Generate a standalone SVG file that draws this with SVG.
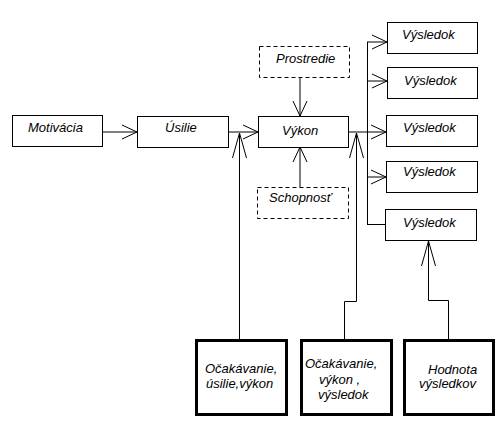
<svg xmlns="http://www.w3.org/2000/svg" width="504" height="435" viewBox="0 0 504 435">
<style>
.box{fill:#fff;stroke:#000;stroke-width:1}
.dash{fill:#fff;stroke:#000;stroke-width:1;stroke-dasharray:4,3}
.thick{fill:#fff;stroke:#000;stroke-width:3}
text{font-family:"Liberation Sans",Arial,sans-serif;font-style:italic;font-size:13px;fill:#000}
.c path{fill:none;stroke:#000;stroke-width:1}
</style>
<defs>
<marker id="ah" markerUnits="userSpaceOnUse" viewBox="0 0 16 16" refX="15" refY="8" markerWidth="16" markerHeight="16" orient="auto" overflow="visible">
<path d="M0,1 L15,8 L0,15" fill="none" stroke="#000" stroke-width="1"/>
</marker>
<marker id="al" markerUnits="userSpaceOnUse" viewBox="0 0 26 16" refX="25" refY="8" markerWidth="26" markerHeight="16" orient="auto" overflow="visible">
<path d="M0,1 L25,8 L0,15" fill="none" stroke="#000" stroke-width="1"/>
</marker>
</defs>
<rect width="504" height="435" fill="#fff"/>
<g id="connectors" class="c">
<path d="M102,132 H137" marker-end="url(#ah)"/>
<path d="M228,132 H258" marker-end="url(#ah)"/>
<path d="M300,77 V116" marker-end="url(#ah)"/>
<path d="M300,187 V147" marker-end="url(#ah)"/>
<path d="M348,132 H386" marker-end="url(#ah)"/>
<path d="M367.5,42 V224"/>
<path d="M367,42 H387" marker-end="url(#ah)"/>
<path d="M367,81 H387" marker-end="url(#ah)"/>
<path d="M367,177 H386" marker-end="url(#ah)"/>
<path d="M367,224.5 H385"/>
<path d="M239.5,339 V133" marker-end="url(#al)"/>
<path d="M344.5,339 V301.5 H356.5 V133" marker-end="url(#al)"/>
<path d="M448.5,339 V300.5 H428.5 V241" marker-end="url(#al)"/>
</g>
<g id="motivacia"><rect class="box" x="12.5" y="115.5" width="90" height="31"/><text x="28" y="132">Motivácia</text></g>
<g id="usilie"><rect class="box" x="137.5" y="116.5" width="91" height="31"/><text x="165" y="132">Úsilie</text></g>
<g id="vykon"><rect class="box" x="258.5" y="116.5" width="90" height="31"/><text x="282" y="135">Výkon</text></g>
<g id="prostredie"><rect class="dash" x="259.5" y="46.5" width="90" height="31"/><text x="276" y="63">Prostredie</text></g>
<g id="schopnost"><rect class="dash" x="257.5" y="187.5" width="91" height="31"/><text x="269" y="202">Schopnosť</text></g>
<g id="vysledok1"><rect class="box" x="387.5" y="22.5" width="90" height="31"/><text x="402" y="39">Výsledok</text></g>
<g id="vysledok2"><rect class="box" x="387.5" y="67.5" width="90" height="31"/><text x="404" y="85">Výsledok</text></g>
<g id="vysledok3"><rect class="box" x="386.5" y="115.5" width="91" height="31"/><text x="403" y="132">Výsledok</text></g>
<g id="vysledok4"><rect class="box" x="386.5" y="161.5" width="91" height="31"/><text x="403" y="176">Výsledok</text></g>
<g id="vysledok5"><rect class="box" x="385.5" y="209.5" width="91" height="31"/><text x="403" y="227">Výsledok</text></g>
<g id="ocak1"><rect class="thick" x="196.5" y="340.5" width="90" height="74"/><text x="205" y="373">Očakávanie,</text><text x="206" y="388">úsilie,výkon</text></g>
<g id="ocak2"><rect class="thick" x="301.5" y="340.5" width="90" height="74"/><text x="305" y="368">Očakávanie,</text><text x="319" y="384">výkon ,</text><text x="318" y="399">výsledok</text></g>
<g id="hodnota"><rect class="thick" x="404.5" y="340.5" width="89" height="74"/><text x="428" y="374">Hodnota</text><text x="419" y="388">výsledkov</text></g>
</svg>
